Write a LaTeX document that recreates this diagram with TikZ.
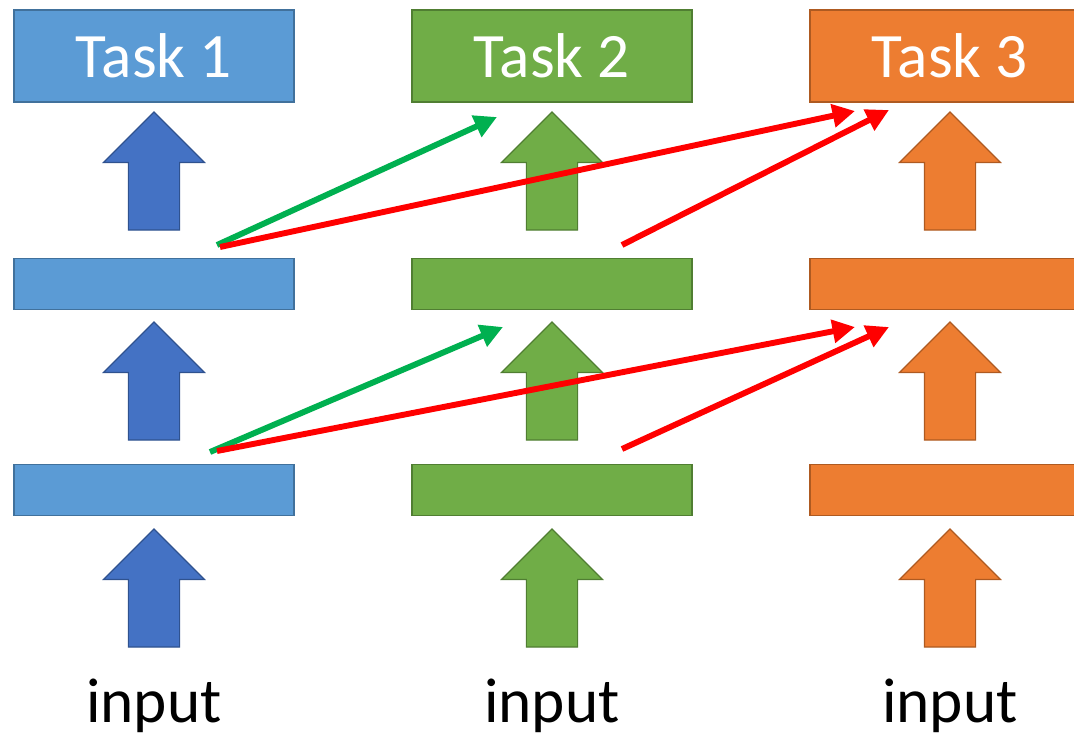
\documentclass[tikz,border=0pt]{standalone}
\usepackage{fontspec}
\setmainfont{Carlito}
\usetikzlibrary{arrows.meta, shapes.arrows}
\usepackage{xcolor}

\definecolor{boxblue}{HTML}{5B9BD5}
\definecolor{lineblue}{HTML}{41719C}
\definecolor{upblue}{HTML}{4472C4}
\definecolor{uplineblue}{HTML}{2F528F}
\definecolor{boxgreen}{HTML}{70AD47}
\definecolor{linegreen}{HTML}{507E32}
\definecolor{boxorange}{HTML}{ED7D31}
\definecolor{lineorange}{HTML}{AE5A21}
\definecolor{linkgreen}{HTML}{00B050}
\definecolor{linkred}{HTML}{FF0000}

\begin{document}
\begin{tikzpicture}[
            x = 0.025cm, y = -0.025cm, % one unit = one pixel, y down
            > = {Triangle[length=16pt, width=16pt]}, % arrow head style
            line width = 0.8pt
        ]

        \tikzstyle{layer}=[
            draw,
            minimum width = 7cm,
            minimum height = 1.275cm,
            inner sep = 0pt,
            outer sep = 0pt
        ]
        \tikzstyle{task}=[layer, minimum height = 2.3cm, text = white,
            font = \fontsize{45}{54}\selectfont]
        \tikzstyle{up}=[draw, single arrow, rotate = 90, anchor = tail,
            minimum height = 2.95cm, single arrow head extend = 0.625cm,
            inner xsep = 0pt, inner ysep = 0.625cm, outer sep = 0pt]
        \tikzstyle{inputtext}=[anchor = base, font = \fontsize{45}{54}\selectfont]
        \tikzstyle{link}=[->, line width = 4.2pt]

        \useasboundingbox (0,0) rectangle (1074,738);
        \clip (0,0) rectangle (1074,738);

        % Colonna 1
        \node[task, fill=boxblue, draw=lineblue] (T1) at (154,56) {Task 1};
        \node[layer, fill=boxblue, draw=lineblue] (h1') at (154,284) {};
        \node[layer, fill=boxblue, draw=lineblue] (h1) at (154,490) {};
        \node[up, fill=upblue, draw=uplineblue] (u1'') at (154,230) {};
        \node[up, fill=upblue, draw=uplineblue] (u1') at (154,440) {};
        \node[up, fill=upblue, draw=uplineblue] (u1) at (154,647) {};
        \node[inputtext] (x1) at (154,722) {input};

        % Colonna 2
        \node[task, fill=boxgreen, draw=linegreen] (T2) at (552,56) {Task 2};
        \node[layer, fill=boxgreen, draw=linegreen] (h2') at (552,284) {};
        \node[layer, fill=boxgreen, draw=linegreen] (h2) at (552,490) {};
        \node[up, fill=boxgreen, draw=linegreen] (u2'') at (552,230) {};
        \node[up, fill=boxgreen, draw=linegreen] (u2') at (552,440) {};
        \node[up, fill=boxgreen, draw=linegreen] (u2) at (552,647) {};
        \node[inputtext] (x2) at (552,722) {input};

        % Colonna 3
        \node[task, fill=boxorange, draw=lineorange] (T3) at (950,56) {Task 3};
        \node[layer, fill=boxorange, draw=lineorange] (h3') at (950,284) {};
        \node[layer, fill=boxorange, draw=lineorange] (h3) at (950,490) {};
        \node[up, fill=boxorange, draw=lineorange] (u3'') at (950,230) {};
        \node[up, fill=boxorange, draw=lineorange] (u3') at (950,440) {};
        \node[up, fill=boxorange, draw=lineorange] (u3) at (950,647) {};
        \node[inputtext] (x3) at (950,722) {input};

        % collegamenti laterali
        \coordinate (a1) at (217,245);
        \coordinate (a1r) at (220,247);
        \coordinate (a2) at (622,245);
        \coordinate (b1) at (210,452);
        \coordinate (b1r) at (217,451);
        \coordinate (b2) at (622,449);
        \coordinate (t2) at (497,117);
        \coordinate (t3) at (855,111);
        \coordinate (t3') at (889,110);
        \coordinate (m2) at (503,327);
        \coordinate (m3) at (855,327);
        \coordinate (m3') at (889,327);

        \draw[link, linkgreen] (a1) -- (t2);
        \draw[link, linkgreen] (b1) -- (m2);
        \draw[link, linkred] (a1r) -- (t3);
        \draw[link, linkred] (a2) -- (t3');
        \draw[link, linkred] (b1r) -- (m3);
        \draw[link, linkred] (b2) -- (m3');

\end{tikzpicture}
\end{document}
